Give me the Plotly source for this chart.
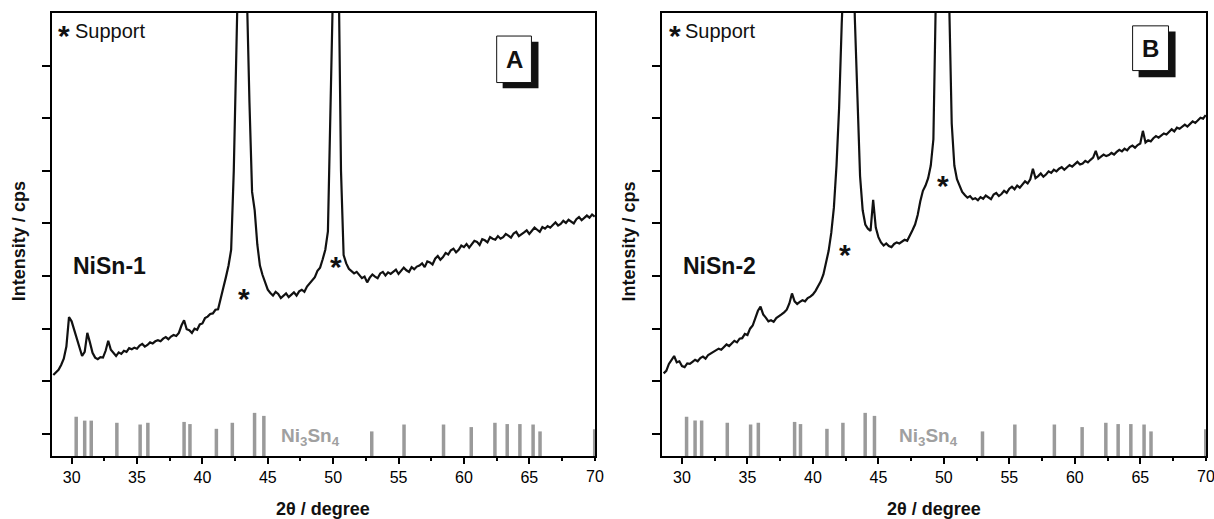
import plotly.graph_objects as go

# scans are sampled every 0.2 deg starting at 28.6 deg 2-theta
scan_start = 28.6
scan_step = 0.2

# NiSn-1 intensity (arb. units, one row = 2 deg)
nisn1_int = [
    1.12, 1.17, 1.22, 1.31, 1.43, 1.66, 2.22, 2.14, 1.97, 1.83,
    1.62, 1.48, 1.56, 1.92, 1.74, 1.54, 1.45, 1.42, 1.46, 1.45,
    1.58, 1.77, 1.60, 1.54, 1.48, 1.55, 1.52, 1.58, 1.56, 1.63,
    1.61, 1.64, 1.62, 1.68, 1.71, 1.66, 1.69, 1.74, 1.72, 1.76,
    1.78, 1.76, 1.81, 1.84, 1.80, 1.85, 1.88, 1.86, 1.92, 2.06,
    2.16, 1.99, 1.97, 1.92, 2.00, 1.98, 2.08, 2.10, 2.20, 2.23,
    2.28, 2.29, 2.36, 2.37, 2.55, 2.78, 2.98, 3.20, 3.50, 5.00,
    7.30, 10.0, 12.0, 10.5, 8.30, 6.30, 4.60, 4.25, 3.60, 3.20,
    3.02, 2.86, 2.74, 2.68, 2.63, 2.70, 2.66, 2.58, 2.62, 2.67,
    2.60, 2.64, 2.69, 2.63, 2.71, 2.74, 2.70, 2.80, 2.86, 2.91,
    2.98, 3.10, 3.16, 3.32, 3.50, 3.85, 6.40, 9.50, 11.0, 9.20,
    5.00, 3.40, 3.24, 3.14, 3.10, 3.05, 3.08, 3.01, 2.96, 2.99,
    2.88, 2.97, 3.03, 2.99, 2.96, 3.05, 3.08, 3.01, 3.07, 3.04,
    3.09, 3.12, 3.04, 3.10, 3.16, 3.11, 3.08, 3.17, 3.13, 3.18,
    3.20, 3.24, 3.17, 3.28, 3.26, 3.22, 3.33, 3.38, 3.31, 3.36,
    3.44, 3.41, 3.49, 3.52, 3.45, 3.50, 3.58, 3.55, 3.61, 3.54,
    3.60, 3.67, 3.65, 3.59, 3.70, 3.68, 3.64, 3.74, 3.71, 3.69,
    3.76, 3.71, 3.74, 3.80, 3.77, 3.73, 3.81, 3.84, 3.76, 3.79,
    3.83, 3.87, 3.80, 3.86, 3.92, 3.88, 3.84, 3.93, 3.90, 3.95,
    3.92, 3.97, 4.02, 3.96, 3.99, 4.05, 4.01, 4.07, 4.03, 4.00,
    4.08, 4.12, 4.06, 4.10, 4.15, 4.11, 4.17, 4.13,
]

# NiSn-2 intensity
nisn2_int = [
    1.15, 1.20, 1.33, 1.40, 1.48, 1.36, 1.38, 1.29, 1.27, 1.34,
    1.33, 1.37, 1.41, 1.38, 1.44, 1.47, 1.43, 1.50, 1.53, 1.55,
    1.58, 1.62, 1.60, 1.66, 1.70, 1.67, 1.73, 1.77, 1.74, 1.81,
    1.82, 1.90, 1.88, 2.00, 2.06, 2.20, 2.34, 2.42, 2.27, 2.21,
    2.14, 2.16, 2.13, 2.20, 2.23, 2.27, 2.31, 2.36, 2.48, 2.67,
    2.52, 2.47, 2.51, 2.54, 2.52, 2.58, 2.61, 2.65, 2.72, 2.80,
    2.90, 3.03, 3.26, 3.48, 3.82, 4.30, 5.10, 6.20, 7.80, 10.0,
    11.2, 11.5, 10.2, 7.90, 6.40, 4.90, 4.25, 3.98, 3.90, 3.86,
    4.45, 3.92, 3.74, 3.64, 3.58, 3.62, 3.57, 3.55, 3.61, 3.64,
    3.62, 3.66, 3.69, 3.67, 3.76, 3.87, 3.98, 4.16, 4.42, 4.62,
    4.72, 4.86, 5.10, 5.60, 8.50, 10.5, 11.0, 10.8, 9.80, 8.30,
    5.90, 5.10, 4.84, 4.72, 4.60, 4.54, 4.49, 4.52, 4.46, 4.48,
    4.44, 4.50, 4.47, 4.53, 4.49, 4.46, 4.55, 4.58, 4.52, 4.56,
    4.62, 4.58, 4.66, 4.70, 4.65, 4.72, 4.68, 4.75, 4.80, 4.76,
    4.84, 5.04, 4.86, 4.90, 4.95, 4.89, 4.93, 4.99, 4.96, 5.02,
    4.99, 5.04, 5.07, 5.02, 5.06, 5.11, 5.08, 5.13, 5.17, 5.12,
    5.14, 5.19, 5.16, 5.21, 5.25, 5.38, 5.23, 5.27, 5.31, 5.28,
    5.30, 5.34, 5.31, 5.36, 5.40, 5.37, 5.42, 5.39, 5.45, 5.48,
    5.44, 5.49, 5.52, 5.76, 5.54, 5.58, 5.56, 5.62, 5.66, 5.63,
    5.67, 5.71, 5.69, 5.74, 5.79, 5.75, 5.82, 5.80, 5.85, 5.88,
    5.84, 5.90, 5.94, 5.91, 5.97, 6.01, 5.99, 6.06,
]

# Ni3Sn4 reference pattern: positions (deg) and relative intensity (%)
ni3sn4_pos = [30.35, 31.0, 31.5, 33.46, 35.24, 35.83, 38.6, 39.05, 41.07, 42.29,
              43.99, 44.7, 52.95, 55.42, 58.44, 60.56, 62.37, 63.31, 64.28, 65.29,
              65.82, 70.0]
ni3sn4_rel = [91, 82, 82, 77, 73, 77, 79, 74, 63, 77,
              100, 93, 57, 73, 73, 67, 77, 74, 74, 73,
              57, 62]

# support reflections marked with a star (2theta, intensity)
support_1 = [(43.15, 2.62), (50.25, 3.23)]
support_2 = [(42.45, 3.46), (49.93, 4.77)]

x_ticks = [30, 35, 40, 45, 50, 55, 60, 65, 70]
y_ticks = [0, 1, 2, 3, 4, 5, 6, 7]

FONT = "Liberation Sans, Arial, sans-serif"
y_min, y_max = -0.42, 8.0
stick_scale = 0.82


def sticks():
    xs, ys = [], []
    for p, r in zip(ni3sn4_pos, ni3sn4_rel):
        xs += [p, p, None]
        ys += [y_min, y_min + r / 100 * stick_scale, None]
    return xs, ys


fig = go.Figure()

panels = [
    dict(xa="x", ya="y", xr="xaxis", yr="yaxis", y=nisn1_int, name="NiSn-1",
         letter="A", stars=support_1, ni_x=48.3,
         box=(0.819, 0.883, 0.843, 0.948), shadow=(0.830, 0.896, 0.830, 0.935),
         dom=[0, 0.4705]),
    dict(xa="x2", ya="y2", xr="xaxis2", yr="yaxis2", y=nisn2_int, name="NiSn-2",
         letter="B", stars=support_2, ni_x=48.8,
         box=(0.865, 0.931, 0.870, 0.971), shadow=(0.876, 0.944, 0.855, 0.958),
         dom=[0.5289, 1]),
]

for p in panels:
    sx, sy = sticks()
    fig.add_trace(go.Scatter(x=sx, y=sy, mode="lines", xaxis=p["xa"], yaxis=p["ya"],
                             line=dict(color="#9a9a9a", width=3.5), showlegend=False,
                             hoverinfo="skip"))
    tt = [round(scan_start + scan_step * i, 1) for i in range(len(p["y"]))]
    fig.add_trace(go.Scatter(x=tt, y=p["y"], mode="lines", xaxis=p["xa"], yaxis=p["ya"],
                             line=dict(color="#111111", width=2.2), showlegend=False,
                             name=p["name"]))

    fig.layout[p["xr"]] = dict(
        domain=p["dom"], anchor=p["ya"], range=[28.5, 70.02], automargin=False,
        tickvals=x_ticks[:-1], ticks="outside", ticklen=6, tickwidth=2, tickcolor="black",
        minor=dict(tick0=27.5, dtick=2.5, ticks="outside", ticklen=3, tickwidth=2,
                   tickcolor="black"),
        showline=True, linecolor="black", linewidth=2, mirror=True,
        showgrid=False, zeroline=False, tickfont=dict(size=16, color="black", family=FONT))
    fig.layout[p["yr"]] = dict(
        domain=[0, 1], anchor=p["xa"], range=[y_min, y_max], tickvals=y_ticks,
        automargin=False,
        showticklabels=False, ticks="outside", ticklen=8, tickwidth=2, tickcolor="black",
        showline=True, linecolor="black", linewidth=2, mirror=True,
        showgrid=False, zeroline=False)

    # last tick label sits on the frame edge, plotly would drop it on the right panel
    fig.add_annotation(xref=p["xa"], yref="paper", x=x_ticks[-1], y=-0.0474,
                       xanchor="center", yanchor="middle", text=str(x_ticks[-1]),
                       showarrow=False, font=dict(size=16, color="black", family=FONT))

    dref = p["xa"] + " domain"
    yref = p["ya"] + " domain"
    x0, x1, y0, y1 = p["shadow"]
    fig.add_shape(type="rect", xref=dref, yref=yref, x0=x0, x1=x1, y0=y0, y1=y1,
                  fillcolor="#111111", line=dict(width=0), layer="above")
    x0, x1, y0, y1 = p["box"]
    fig.add_shape(type="rect", xref=dref, yref=yref, x0=x0, x1=x1, y0=y0, y1=y1,
                  fillcolor="white", line=dict(color="#111111", width=1), layer="above")
    fig.add_annotation(xref=dref, yref=yref, x=(x0 + x1) / 2, y=(y0 + y1) / 2,
                       xanchor="center", yanchor="middle",
                       text="<b>" + p["letter"] + "</b>", showarrow=False,
                       font=dict(size=24, color="#111111", family=FONT))

    fig.add_annotation(xref=p["xa"], yref=p["ya"], x=29.45, y=7.58, text="<b>*</b>",
                       xanchor="center", yanchor="middle",
                       showarrow=False, font=dict(size=30, color="#111111", family=FONT))
    fig.add_annotation(xref=p["xa"], yref=p["ya"], x=30.1, y=7.66, text="Support",
                       xanchor="left", yanchor="middle", showarrow=False,
                       font=dict(size=20, color="#111111", family=FONT))
    fig.add_annotation(xref=p["xa"], yref=p["ya"], x=29.95, y=3.2,
                       text="<b>" + p["name"] + "</b>", xanchor="left", yanchor="middle",
                       showarrow=False, font=dict(size=23, color="#111111", family=FONT))
    for sx_, sy_ in p["stars"]:
        fig.add_annotation(xref=p["xa"], yref=p["ya"], x=sx_, y=sy_ - 0.05,
                           text="<b>*</b>", showarrow=False,
                           xanchor="center", yanchor="middle",
                           font=dict(size=30, color="#111111", family=FONT))
    fig.add_annotation(xref=p["xa"], yref=p["ya"], x=p["ni_x"], y=-0.05,
                       xanchor="center", yanchor="middle",
                       text="<b>Ni<sub>3</sub>Sn<sub>4</sub></b>", showarrow=False,
                       font=dict(size=19, color="#a0a0a0", family=FONT))

    cx = (p["dom"][0] + p["dom"][1]) / 2
    fig.add_annotation(xref="paper", yref="paper", x=cx, y=-0.12,
                       xanchor="center", yanchor="middle",
                       text="<b>2θ / degree</b>", showarrow=False,
                       font=dict(size=18, color="#111111", family=FONT))
    fig.add_annotation(xref="paper", yref="paper", x=p["dom"][0] - 0.0286, y=0.485,
                       xanchor="center", yanchor="middle",
                       textangle=-90, text="<b>Intensity / cps</b>", showarrow=False,
                       font=dict(size=18, color="#111111", family=FONT))

fig.update_layout(
    width=1214, height=519,
    margin=dict(l=52, r=8, t=13, b=63, autoexpand=False),
    paper_bgcolor="white", plot_bgcolor="white",
    font=dict(family=FONT, color="#111111"),
)

# the page body has a default 8px margin; drop it so the figure fills the window
fig.write_html("out.html", config={"displayModeBar": False},
               post_script="document.body.style.margin='0';"
                           "document.body.style.overflow='hidden';")
